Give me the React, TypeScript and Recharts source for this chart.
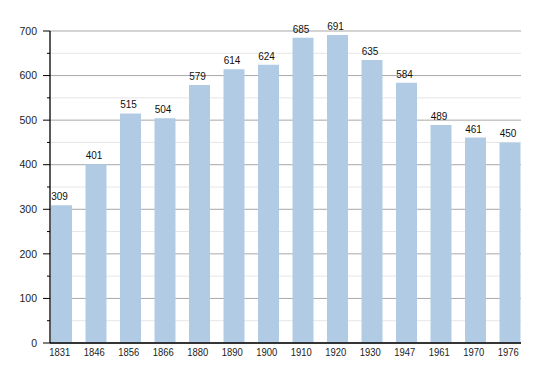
import { BarChart, Bar, XAxis, YAxis, CartesianGrid, LabelList } from "recharts";

const years = ["1831", "1846", "1856", "1866", "1880", "1890", "1900", "1910", "1920", "1930", "1947", "1961", "1970", "1976"];
const population = [309, 401, 515, 504, 579, 614, 624, 685, 691, 635, 584, 489, 461, 450];

const majorTicks = [0, 100, 200, 300, 400, 500, 600, 700];
const minorTicks = [50, 150, 250, 350, 450, 550, 650];
const allTicks = [0, 50, 100, 150, 200, 250, 300, 350, 400, 450, 500, 550, 600, 650, 700];

const data = years.map((year, i) => ({ year, value: population[i] }));

const FONT = '"Liberation Sans", Arial, Helvetica, sans-serif';

const YTick = (props: any) => {
  const { x, y, payload } = props;
  const isMajor = payload.value % 100 === 0;
  return (
    <g>
      <line x1={x - (isMajor ? 7 : 3)} x2={x} y1={y} y2={y} stroke="#000" strokeWidth={1} />
      {isMajor && (
        <text x={x - 13} y={y} dy="0.35em" textAnchor="end" fontSize={10.5} fontFamily={FONT} fill="#222">
          {payload.value}
        </text>
      )}
    </g>
  );
};

const XTick = (props: any) => {
  const { x, y, payload } = props;
  return (
    <text
      x={x - 1.5}
      y={y + 12.7}
      textAnchor="middle"
      fontSize={10.5}
      fontFamily={FONT}
      fill="#222"
      textLength={21}
      lengthAdjust="spacingAndGlyphs"
    >
      {payload.value}
    </text>
  );
};

const BarLabel = (props: any) => {
  const { x, y, width, value } = props;
  return (
    <text x={x + width / 2 - 2} y={y - 5} textAnchor="middle" fontSize={10} fontFamily={FONT} fill="#111">
      {value}
    </text>
  );
};

export default function App() {
  return (
    <div style={{ width: 542, height: 365 }}>
      <BarChart
        width={542}
        height={365}
        data={data}
        margin={{ top: 23, right: 29, left: 0, bottom: 0 }}
        barCategoryGap={7}
      >
        <CartesianGrid vertical={false} horizontalValues={minorTicks} stroke="#e6e6e6" strokeWidth={1} />
        <CartesianGrid vertical={false} horizontalValues={majorTicks} stroke="#a8a8a8" strokeWidth={1} />
        <XAxis
          dataKey="year"
          height={30}
          padding={{ left: -6, right: -6 }}
          tickLine={false}
          tickSize={0}
          tickMargin={0}
          axisLine={{ stroke: "#000", strokeWidth: 1.3 }}
          tick={<XTick />}
          interval={0}
        />
        <YAxis
          width={42}
          domain={[0, 700]}
          ticks={allTicks}
          interval={0}
          tickLine={false}
          tickSize={0}
          tickMargin={0}
          axisLine={{ stroke: "#000", strokeWidth: 1.3 }}
          tick={<YTick />}
        />
        <Bar dataKey="value" fill="#b1cbe5" isAnimationActive={false}>
          <LabelList dataKey="value" content={<BarLabel />} />
        </Bar>
      </BarChart>
    </div>
  );
}
